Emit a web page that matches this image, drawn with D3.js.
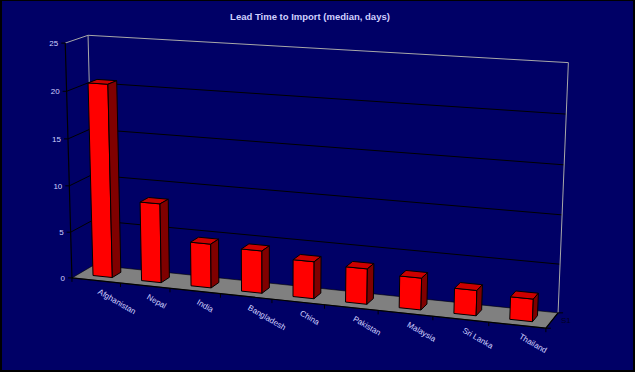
<!DOCTYPE html>
<html>
<head>
<meta charset="utf-8">
<script src="https://cdn.jsdelivr.net/npm/d3@7"></script>
<style>
    body { margin: 0; background: #ffffff; }
    text { font-family: 'Liberation Sans', Arial, sans-serif; }
</style>
</head>
<body>
<div id="graph-container"></div>
<script>
const countries = ['Afghanistan', 'Nepal', 'India', 'Bangladesh', 'China', 'Pakistan', 'Malaysia', 'Sri Lanka', 'Thailand'];
const leadTimes = [20.7, 8.5, 4.7, 4.5, 3.9, 3.7, 3.3, 2.6, 2.3];
const seriesNames = ['S1'];
const valueTicks = [0, 5, 10, 15, 20, 25];
const title = 'Lead Time to Import (median, days)';

const
    WIDTH = 637,
    HEIGHT = 374;

// corners of the 3d box (world x, value, depth) -> screen
const calib = [
    [[0, 0, 0], [73.3, 277]],
    [[0, 1, 0], [64, 43]],
    [[1, 0, 0], [545.7, 329.3]],
    [[0, 0, 1], [92.5, 266]],
    [[0, 1, 1], [89.3, 35.3]],
    [[1, 1, 1], [568.3, 62.7]],
    [[1, 0, 1], [558.3, 311.7]],
];

const colors = {
    bg: '#000066',
    text: '#d0d0ff',
    wallEdge: '#a8a8a8',
    floor: '#808080',
    front: '#ff0000',
    top: '#cc0000',
    side: '#800000',
};

// least squares fit of a 3x4 projection matrix (DLT)
const fitProjection = (pts) => {
    const A = [], b = [];
    pts.forEach(([[X, Y, Z], [u, v]]) => {
        A.push([X, Y, Z, 1, 0, 0, 0, 0, -u * X, -u * Y, -u * Z]); b.push(u);
        A.push([0, 0, 0, 0, X, Y, Z, 1, -v * X, -v * Y, -v * Z]); b.push(v);
    });
    const n = 11;
    const M = [];
    for (let i = 0; i < n; i++) {
        const row = [];
        for (let j = 0; j < n; j++) row.push(d3.sum(A, (r) => r[i] * r[j]));
        row.push(d3.sum(A, (r, k) => r[i] * b[k]));
        M.push(row);
    }
    for (let c = 0; c < n; c++) {
        let p = c;
        for (let r = c + 1; r < n; r++) if (Math.abs(M[r][c]) > Math.abs(M[p][c])) p = r;
        [M[c], M[p]] = [M[p], M[c]];
        for (let r = 0; r < n; r++) {
            if (r === c) continue;
            const f = M[r][c] / M[c][c];
            for (let k = c; k <= n; k++) M[r][k] -= f * M[c][k];
        }
    }
    return M.map((r, i) => r[n] / r[i]);
};

const P = fitProjection(calib);
const project = ([X, Y, Z]) => {
    const w = P[8] * X + P[9] * Y + P[10] * Z + 1;
    return [
        (P[0] * X + P[1] * Y + P[2] * Z + P[3]) / w,
        (P[4] * X + P[5] * Y + P[6] * Z + P[7]) / w,
    ];
};
const poly = (pts) => pts.map(project).map((p) => p.join(',')).join(' ');
const line = (pts) => 'M' + pts.map(project).map((p) => p.join(',')).join('L');

const xScale = d3.scaleBand()
    .domain(countries)
    .range([0, 1])
    .paddingInner(0.6)
    .paddingOuter(0.3);

const zScale = d3.scaleBand()
    .domain(seriesNames)
    .range([0, 1])
    .paddingInner(0.6)
    .paddingOuter(0.3);

const yScale = d3.scaleLinear()
    .domain([0, 25])
    .range([0, 1]);

const data = countries.map((c, i) => ({ country: c, value: leadTimes[i], series: 'S1' }));

const svg = d3.select('#graph-container').append('svg')
    .attr('width', WIDTH)
    .attr('height', HEIGHT);

svg.append('rect')
    .attr('x', 1).attr('y', 0)
    .attr('width', 633).attr('height', 371)
    .attr('fill', colors.bg)
    .attr('stroke', '#000000')
    .attr('stroke-width', 2);

svg.append('text')
    .attr('x', 310)
    .attr('y', 20)
    .attr('text-anchor', 'middle')
    .attr('fill', colors.text)
    .style('font-size', '9.5px')
    .style('font-weight', 'bold')
    .text(title);

/////////////////////// walls + grid /////////////////////////

const grid = svg.append('g');

grid.selectAll('path.grid')
    .data(valueTicks.filter((v) => v > 0))
    .join('path')
    .attr('class', 'grid')
    .attr('d', (v) => line([[0, yScale(v), 0], [0, yScale(v), 1], [1, yScale(v), 1]]))
    .attr('fill', 'none')
    .attr('stroke', (v) => v === 25 ? colors.wallEdge : '#000000')
    .attr('stroke-width', 1);

grid.append('path')
    .attr('d', line([[0, 0, 1], [0, 1, 1]]))
    .attr('stroke', colors.wallEdge);
grid.append('path')
    .attr('d', line([[1, 0, 1], [1, 1, 1]]))
    .attr('stroke', colors.wallEdge);

// floor
svg.append('polygon')
    .attr('points', poly([[0, 0, 0], [1, 0, 0], [1, 0, 1], [0, 0, 1]]))
    .attr('fill', colors.floor)
    .attr('stroke', '#000000')
    .attr('stroke-width', 0.6);

svg.append('path')
    .attr('d', line([[0, 0, 0], [1, 0, 0], [1, 0, 1]]))
    .attr('fill', 'none')
    .attr('stroke', '#000000')
    .attr('stroke-width', 1.2);

// value axis
svg.append('path')
    .attr('d', line([[0, 0, 0], [0, 1, 0]]))
    .attr('stroke', '#000000')
    .attr('stroke-width', 1.2);

const yAxis = svg.append('g');
valueTicks.forEach((v) => {
    const [px, py] = project([0, yScale(v), 0]);
    yAxis.append('line')
        .attr('x1', px - 4).attr('x2', px)
        .attr('y1', py).attr('y2', py)
        .attr('stroke', '#000000');
    yAxis.append('text')
        .attr('x', px - 7)
        .attr('y', py + 3)
        .attr('text-anchor', 'end')
        .attr('fill', colors.text)
        .style('font-size', '8px')
        .text(v);
});

// category ticks and labels
const xAxis = svg.append('g');
d3.range(countries.length + 1).forEach((i) => {
    const [px, py] = project([i * xScale.step(), 0, 0]);
    xAxis.append('line')
        .attr('x1', px).attr('x2', px)
        .attr('y1', py).attr('y2', py + 4)
        .attr('stroke', '#000000');
});
xAxis.selectAll('text')
    .data(countries)
    .join('text')
    .attr('transform', (d) => {
        const [px, py] = project([xScale(d) + xScale.bandwidth() / 2, 0, 0]);
        return `translate(${px + 4},${py + 8}) rotate(30)`;
    })
    .attr('dominant-baseline', 'hanging')
    .attr('fill', colors.text)
    .style('font-size', '8px')
    .text((d) => d);

// series axis
[0, 1].forEach((z) => {
    const [px, py] = project([1, 0, z]);
    svg.append('line')
        .attr('x1', px).attr('x2', px + 5)
        .attr('y1', py).attr('y2', py)
        .attr('stroke', '#000000');
});
seriesNames.forEach((s) => {
    const [px, py] = project([1, 0, zScale(s) + zScale.bandwidth() / 2]);
    svg.append('text')
        .attr('x', px + 9)
        .attr('y', py + 3)
        .attr('fill', '#000022')
        .style('font-size', '8px')
        .text(s);
});

/////////////////////// bars /////////////////////////

const bars = svg.append('g')
    .selectAll('g')
    .data(data)
    .join('g');

const faces = (d) => {
    const x0 = xScale(d.country), x1 = x0 + xScale.bandwidth();
    const z0 = zScale(d.series), z1 = z0 + zScale.bandwidth();
    const h = yScale(d.value);
    return [
        { fill: colors.front, pts: [[x0, 0, z0], [x1, 0, z0], [x1, h, z0], [x0, h, z0]] },
        { fill: colors.top, pts: [[x0, h, z0], [x1, h, z0], [x1, h, z1], [x0, h, z1]] },
        { fill: colors.side, pts: [[x1, 0, z0], [x1, 0, z1], [x1, h, z1], [x1, h, z0]] },
    ];
};

bars.selectAll('polygon')
    .data(faces)
    .join('polygon')
    .attr('points', (f) => poly(f.pts))
    .attr('fill', (f) => f.fill)
    .attr('stroke', '#000000')
    .attr('stroke-width', 1)
    .attr('stroke-linejoin', 'round');
</script>
</body>
</html>
